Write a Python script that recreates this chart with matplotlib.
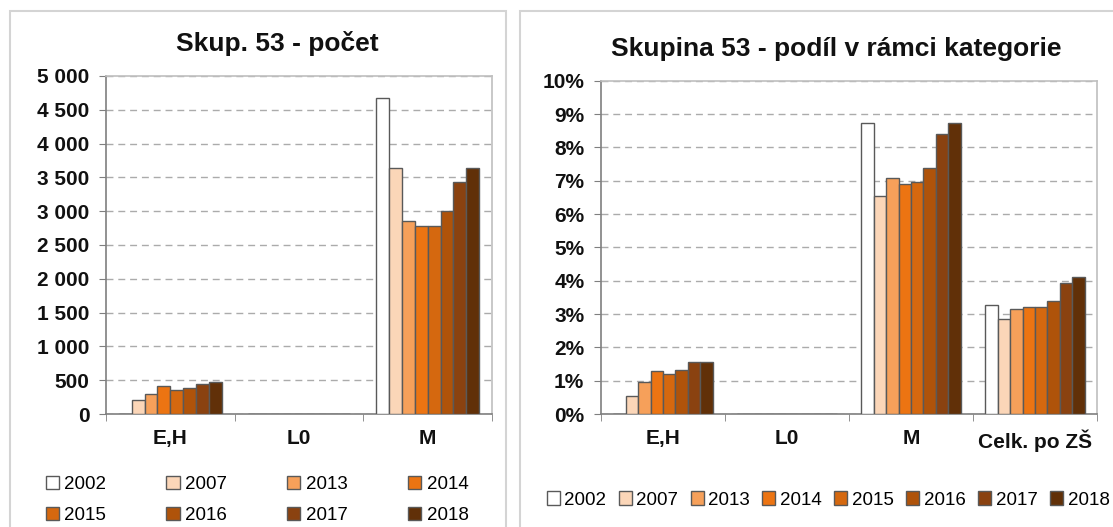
import numpy as np
import matplotlib.pyplot as plt
from matplotlib.patches import Rectangle
from matplotlib.ticker import FuncFormatter, FixedLocator

plt.rcParams['font.family'] = ['Liberation Sans', 'DejaVu Sans']

# data
years = ['2002', '2007', '2013', '2014', '2015', '2016', '2017', '2018']
colors = ['#FFFFFF', '#FBD6B8', '#F6A05A', '#EC7412', '#D5680F', '#AF530A', '#8A4210', '#613008']

cats_left = ['E,H', 'L0', 'M']
pocet = {
    'E,H': [0, 207, 291, 414, 355, 390, 444, 473],
    'L0':  [0, 0, 0, 0, 0, 0, 0, 0],
    'M':   [4670, 3644, 2855, 2786, 2786, 2998, 3437, 3644],
}

cats_right = ['E,H', 'L0', 'M', 'Celk. po ZŠ']
podil = {
    'E,H': [0.0, 0.54, 0.95, 1.30, 1.19, 1.32, 1.55, 1.55],
    'L0':  [0, 0, 0, 0, 0, 0, 0, 0],
    'M':   [8.73, 6.54, 7.07, 6.90, 6.95, 7.38, 8.39, 8.73],
    'Celk. po ZŠ': [3.27, 2.86, 3.16, 3.22, 3.22, 3.40, 3.93, 4.11],
}

W, H = 1113, 527
fig = plt.figure(figsize=(W / 100, H / 100), dpi=100)

# panel borders
fig.patches.append(Rectangle((10 / W, -0.05), 496 / W, 1.05 - 11 / H, transform=fig.transFigure,
                             fill=False, edgecolor='#D4D4D4', lw=1.5))
fig.patches.append(Rectangle((520 / W, -0.05), 0.6, 1.05 - 11 / H, transform=fig.transFigure,
                             fill=False, edgecolor='#D4D4D4', lw=1.5))


def draw(ax, cats, values, ymax, ystep, fmt):
    n = len(cats)
    bw = 0.1
    for j, yr in enumerate(years):
        xs = [i + 0.1 + bw * j + bw / 2 for i in range(n)]
        hs = [values[c][j] for c in cats]
        ax.bar(xs, hs, width=bw, color=colors[j], edgecolor='#595959', linewidth=1.0,
               label=yr, zorder=3)
    ax.set_xlim(0, n)
    ax.set_ylim(0, ymax)
    ax.set_yticks(np.arange(0, ymax + ystep / 2, ystep))
    ax.yaxis.set_major_formatter(FuncFormatter(fmt))
    ax.yaxis.grid(True, linestyle=(0, (5, 3.5)), color='#ABABAB', linewidth=1.0, zorder=0)
    ax.set_xticks([i + 0.5 for i in range(n)])
    ax.set_xticklabels(cats, fontsize=15, fontweight='bold', color='#111111')
    ax.xaxis.set_minor_locator(FixedLocator(range(n + 1)))
    ax.tick_params(axis='x', which='major', length=0, pad=11)
    ax.tick_params(axis='x', which='minor', length=5, color='#7F7F7F', direction='out')
    ax.tick_params(axis='y', length=5, color='#7F7F7F', labelsize=15, pad=7)
    for lab in ax.get_yticklabels():
        lab.set_fontweight('bold')
        lab.set_color('#111111')
    for s in ['left', 'bottom']:
        ax.spines[s].set_color('#7F7F7F')
        ax.spines[s].set_linewidth(1.2)
    for s in ['top', 'right']:
        ax.spines[s].set_color('#BFBFBF')
        ax.spines[s].set_linewidth(1.2)


ax1 = fig.add_axes([106 / W, 1 - 414 / H, (492 - 106) / W, (414 - 76) / H])
draw(ax1, cats_left, pocet, 5000, 500, lambda v, p: f"{v:,.0f}".replace(",", " "))
fig.text(277 / W, 1 - 43 / H, 'Skup. 53 - počet', ha='center', va='center',
         fontsize=19, fontweight='bold', color='#111111')

ax2 = fig.add_axes([601 / W, 1 - 414 / H, (1097 - 601) / W, (414 - 80.7) / H])
draw(ax2, cats_right, podil, 10, 1, lambda v, p: f"{v:.0f}%")
fig.text(836 / W, 1 - 49 / H, 'Skupina 53 - podíl v rámci kategorie', ha='center', va='center',
         fontsize=19, fontweight='bold', color='#111111')

h, l = ax1.get_legend_handles_labels()
# row-wise order for the 2x4 legend
order = [0, 4, 1, 5, 2, 6, 3, 7]
fig.legend([h[i] for i in order], [l[i] for i in order], loc='center',
           bbox_to_anchor=(257 / W, 1 - 500 / H), ncol=4,
           frameon=False, fontsize=13.5, handlelength=0.7, handleheight=0.7,
           handletextpad=0.3, columnspacing=3.2, labelspacing=0.7, borderpad=0)
fig.legend(h, l, loc='center', bbox_to_anchor=(828 / W, 1 - 500 / H), ncol=8,
           frameon=False, fontsize=13.5, handlelength=0.7, handleheight=0.7,
           handletextpad=0.25, columnspacing=0.65, borderpad=0)

fig.savefig('out.png', dpi=100)
